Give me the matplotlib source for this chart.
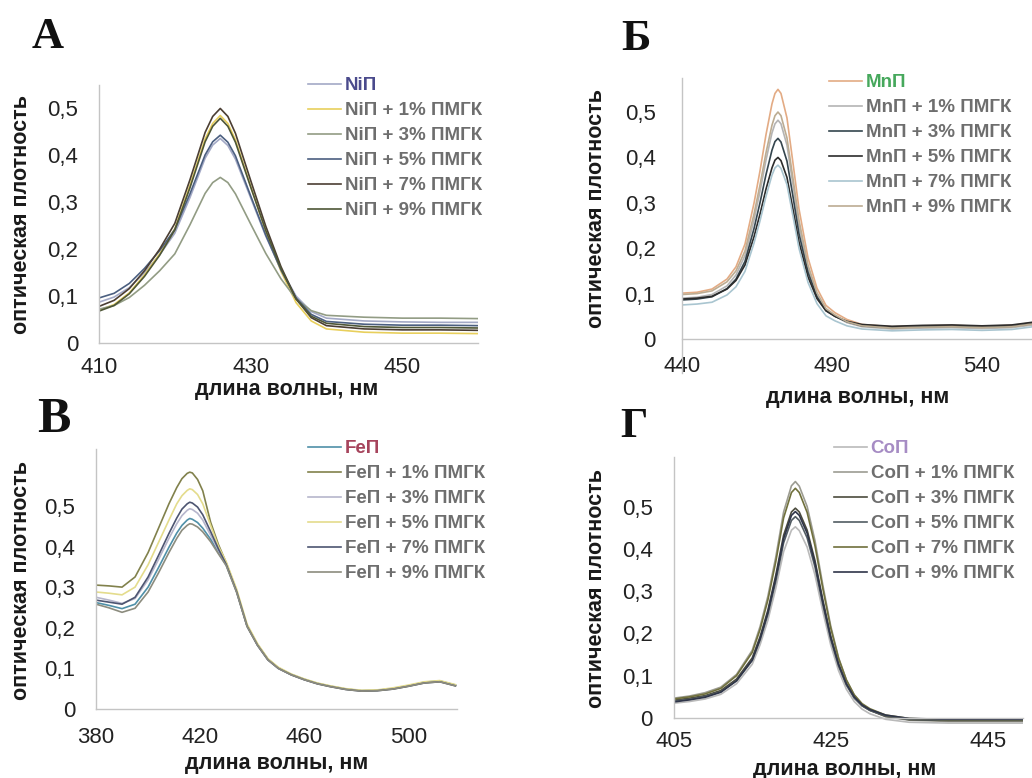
import matplotlib
matplotlib.use("Agg")
import matplotlib.pyplot as plt
from matplotlib.ticker import FuncFormatter

# --- NiП, panel А ---
wl_ni = [410, 412, 414, 416, 418, 420, 422, 424, 425, 426, 427, 428, 430, 432, 434, 436, 438, 440, 445, 450, 455, 460]
ni_0 = [.087, .098, .118, .150, .188, .234, .310, .394, .422, .436, .421, .392, .310, .228, .157, .100, .067, .053, .047, .045, .044, .044]
ni_1 = [.070, .082, .107, .145, .190, .244, .336, .435, .468, .485, .468, .433, .335, .238, .153, .086, .047, .030, .023, .021, .021, .020]
ni_3 = [.072, .080, .097, .123, .154, .190, .252, .319, .342, .353, .342, .318, .254, .191, .137, .094, .069, .059, .055, .053, .053, .052]
ni_5 = [.096, .106, .127, .159, .197, .242, .318, .401, .429, .443, .428, .399, .314, .230, .156, .096, .061, .046, .040, .038, .038, .037]
ni_7 = [.078, .091, .116, .154, .200, .255, .348, .449, .483, .500, .483, .447, .347, .249, .163, .094, .054, .037, .030, .028, .028, .027]
ni_9 = [.068, .080, .105, .142, .187, .241, .331, .429, .462, .479, .462, .428, .333, .240, .159, .094, .057, .042, .035, .033, .033, .032]

# --- MnП, panel Б ---
wl_mn = [440, 445, 450, 455, 458, 461, 464, 466, 468, 470, 471, 472, 473, 475, 477, 479, 482, 485, 488, 491, 495, 500, 510, 520, 530, 540, 550, 557]
mn_0 = [.101, .103, .110, .132, .159, .209, .299, .370, .450, .518, .541, .550, .541, .487, .388, .287, .179, .112, .074, .058, .043, .032, .027, .029, .030, .028, .030, .036]
mn_1 = [.090, .092, .098, .117, .141, .184, .262, .325, .394, .454, .474, .482, .474, .427, .340, .251, .156, .097, .063, .050, .036, .027, .022, .024, .025, .023, .025, .031]
mn_3 = [.086, .088, .093, .111, .132, .171, .243, .300, .362, .416, .435, .442, .434, .392, .314, .232, .147, .093, .063, .050, .038, .029, .025, .027, .028, .026, .028, .034]
mn_5 = [.088, .090, .094, .110, .129, .163, .225, .275, .330, .377, .394, .400, .393, .356, .286, .214, .137, .089, .062, .050, .039, .032, .028, .030, .031, .029, .031, .037]
mn_7 = [.075, .077, .081, .097, .115, .149, .211, .260, .314, .361, .377, .383, .376, .340, .271, .200, .125, .078, .051, .040, .029, .022, .018, .020, .021, .019, .021, .027]
mn_9 = [.098, .100, .106, .126, .150, .194, .275, .339, .410, .471, .492, .500, .492, .443, .354, .262, .163, .102, .067, .053, .038, .029, .024, .026, .027, .025, .027, .033]

# --- FeП, panel В ---
wl_fe = [380, 385, 390, 395, 400, 404, 408, 411, 413, 415, 416, 417, 419, 421, 424, 427, 430,
         434, 438, 442, 446, 450, 455, 460, 465, 470, 476, 482, 488, 494, 500, 506, 512, 518]
fe_0 = [.262, .255, .247, .258, .300, .348, .398, .433, .452, .465, .469, .467, .459, .445, .418, .385, .354,
        .289, .205, .158, .122, .101, .085, .073, .063, .056, .049, .045, .046, .050, .057, .066, .069, .059]
fe_1 = [.305, .303, .300, .325, .385, .445, .505, .545, .567, .580, .583, .581, .565, .537, .460, .405, .360,
        .291, .206, .159, .123, .101, .085, .073, .063, .056, .049, .045, .046, .050, .057, .065, .068, .058]
fe_3 = [.275, .268, .260, .272, .318, .368, .420, .456, .476, .489, .493, .491, .482, .465, .428, .390, .355,
        .288, .204, .157, .121, .100, .084, .072, .063, .056, .049, .045, .046, .050, .057, .065, .068, .058]
fe_5 = [.288, .285, .281, .300, .355, .410, .465, .505, .525, .538, .542, .540, .528, .505, .452, .400, .362,
        .295, .209, .161, .124, .103, .086, .074, .064, .057, .050, .046, .047, .052, .059, .067, .070, .060]
fe_7 = [.268, .263, .258, .275, .325, .378, .432, .470, .492, .505, .509, .507, .497, .478, .437, .394, .356,
        .289, .204, .157, .121, .100, .084, .072, .062, .055, .048, .044, .045, .049, .056, .064, .067, .057]
fe_9 = [.258, .249, .238, .248, .288, .335, .385, .420, .440, .452, .456, .455, .448, .436, .412, .382, .353,
        .287, .203, .157, .121, .100, .084, .072, .062, .055, .048, .044, .045, .049, .056, .064, .067, .057]

# --- CoП, panel Г ---
wl_co = [405, 407, 409, 411, 413, 415, 416, 417, 418, 419, 420, 420.5, 421, 422, 423, 424, 425, 426, 427, 428, 429, 430, 432, 435, 440, 445, 449.5]
co_0 = [.035, .039, .045, .056, .081, .127, .173, .231, .306, .393, .444, .452, .443, .404, .338, .252, .173, .112, .068, .039, .021, .010, -.003, -.010, -.012, -.012, -.012]
co_1 = [.047, .052, .060, .073, .103, .160, .216, .288, .380, .487, .549, .559, .548, .500, .419, .314, .218, .143, .090, .054, .032, .019, .003, -.005, -.008, -.008, -.008]
co_3 = [.042, .047, .053, .065, .092, .142, .192, .255, .337, .432, .487, .496, .487, .444, .372, .279, .194, .128, .080, .049, .029, .018, .004, -.004, -.006, -.006, -.006]
co_5 = [.040, .044, .051, .062, .088, .136, .184, .245, .323, .414, .467, .476, .467, .426, .357, .268, .186, .123, .078, .047, .029, .018, .005, -.003, -.005, -.005, -.005]
co_7 = [.045, .050, .057, .070, .100, .155, .209, .279, .369, .473, .533, .543, .533, .486, .407, .306, .213, .141, .090, .055, .034, .022, .007, -.001, -.004, -.004, -.004]
co_9 = [.038, .043, .049, .061, .088, .137, .187, .250, .331, .424, .479, .488, .479, .437, .366, .274, .191, .127, .081, .050, .031, .020, .007, -.001, -.003, -.003, -.003]

doses = ["", " + 1% ПМГК", " + 3% ПМГК", " + 5% ПМГК", " + 7% ПМГК", " + 9% ПМГК"]

W, H = 1032, 778
fig = plt.figure(figsize=(W / 100, H / 100), dpi=100)


def box(left, top, right, bottom):
    return [left / W, 1 - bottom / H, (right - left) / W, (bottom - top) / H]


def fx(x):
    return x / W


def fy(y):
    return 1 - y / H


def comma(v, pos):
    if abs(v) < 1e-9:
        return "0"
    return f"{v:.1f}".replace(".", ",")


panels = [
    dict(name="NiП", letter="А", wl=wl_ni, ys=[ni_0, ni_1, ni_3, ni_5, ni_7, ni_9],
         colors=["#a3a9c6", "#e8cf5c", "#929c84", "#4b5f80", "#4b3e33", "#4e5636"],
         head="#4a4a8c", rect=box(99, 85, 478, 343), xlim=(410, 460), ylim=(0, 0.55),
         xticks=[410, 430, 450], xpad=10, ypad=15, ylow=0,
         leg=(308, 77), lpos=(48, 37, 32), xl=(287, 389), yl=(22, 215)),
    dict(name="MnП", letter="Б", wl=wl_mn, ys=[mn_0, mn_1, mn_3, mn_5, mn_7, mn_9],
         colors=["#e3ab84", "#b4b4b4", "#34454e", "#2c2c2c", "#a9c5d0", "#bcac92"],
         head="#46a85c", rect=box(682, 78, 1032, 339), xlim=(440, 556.7), ylim=(0, 0.575),
         xticks=[440, 490, 540], xpad=12, ypad=19, ylow=-0.075,
         leg=(829, 74), lpos=(636, 39, 32), xl=(858, 398), yl=(596, 209)),
    dict(name="FeП", letter="В", wl=wl_fe, ys=[fe_0, fe_1, fe_3, fe_5, fe_7, fe_9],
         colors=["#4f90a8", "#81814c", "#b6b6cc", "#e4dc8c", "#4d5571", "#8c8c7e"],
         head="#a6445c", rect=box(96, 449, 456.7, 709), xlim=(380, 518.5), ylim=(0, 0.64),
         xticks=[380, 420, 460, 500], xpad=13, ypad=15, ylow=0,
         leg=(308, 440), lpos=(54, 420, 36), xl=(277, 764), yl=(22, 581)),
    dict(name="CoП", letter="Г", wl=wl_co, ys=[co_0, co_1, co_3, co_5, co_7, co_9],
         colors=["#bababa", "#9c9c92", "#4b4b3d", "#525c62", "#70703c", "#2f3549"],
         head="#a68cc4", rect=box(673.7, 457, 1023, 726.5), xlim=(405, 449.5), ylim=(-0.02, 0.617),
         xticks=[405, 425, 445], xpad=9, ypad=15, ylow=0,
         leg=(834, 440), lpos=(634, 427, 31), xl=(845, 769), yl=(596, 588)),
]

for p in panels:
    ax = fig.add_axes(p["rect"])
    for y, c, d in zip(p["ys"], p["colors"], doses):
        ax.plot(p["wl"], y, color=c, lw=1.2, label=p["name"] + d)
    ax.set_xlim(*p["xlim"])
    ax.set_ylim(*p["ylim"])
    ax.set_xticks(p["xticks"])
    ax.set_yticks([0, 0.1, 0.2, 0.3, 0.4, 0.5])
    ax.yaxis.set_major_formatter(FuncFormatter(comma))
    for s in ["top", "right"]:
        ax.spines[s].set_visible(False)
    for s in ["left", "bottom"]:
        ax.spines[s].set_color("#c4c4c4")
        ax.spines[s].set_linewidth(1.0)
    ax.spines["bottom"].set_position(("data", 0))
    ax.spines["left"].set_bounds(p["ylow"], p["ylim"][1])
    ax.tick_params(axis="x", length=0, labelsize=16, colors="#222222", pad=p["xpad"])
    ax.tick_params(axis="y", length=0, labelsize=16, colors="#222222", pad=p["ypad"])
    for t in ax.get_xticklabels() + ax.get_yticklabels():
        t.set_fontfamily("Liberation Sans")
    ax.patch.set_alpha(0)

    lx, ly = p["leg"]
    leg = ax.legend(loc="upper left", bbox_to_anchor=(fx(lx), fy(ly)), bbox_transform=fig.transFigure,
                    frameon=False, borderaxespad=0, borderpad=0, handlelength=1.75,
                    handletextpad=0.2, labelspacing=0.42,
                    prop={"family": "Liberation Sans", "weight": "bold", "size": 13.5})
    for i, t in enumerate(leg.get_texts()):
        t.set_color(p["head"] if i == 0 else "#6e6e6e")

    x, y, s = p["lpos"]
    fig.text(fx(x), fy(y), p["letter"], fontsize=s, fontweight="bold", family="Liberation Serif",
             ha="center", va="center", color="#111111")
    fig.text(fx(p["xl"][0]), fy(p["xl"][1]), "длина волны, нм", fontsize=15.5, fontweight="bold",
             family="Liberation Sans", ha="center", va="center", color="#1a1a1a")
    fig.text(fx(p["yl"][0]), fy(p["yl"][1]), "оптическая плотность", fontsize=15.5, fontweight="bold",
             family="Liberation Sans", ha="center", va="center", rotation=90, color="#1a1a1a")

fig.savefig("out.png", dpi=100)
